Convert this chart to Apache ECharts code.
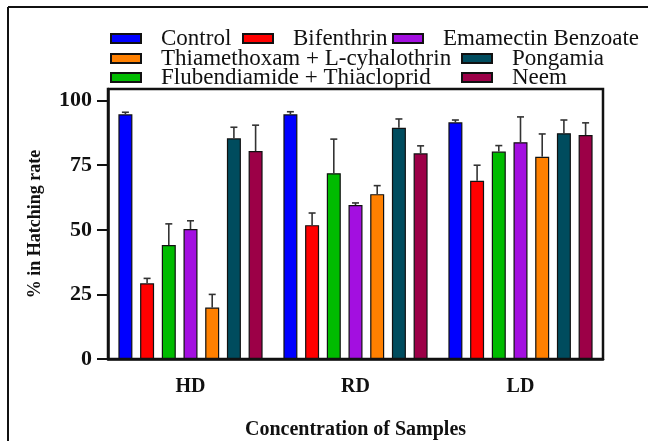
<!DOCTYPE html>
<html>
<head>
<meta charset="utf-8">
<script src="https://cdn.jsdelivr.net/npm/echarts@6/dist/echarts.min.js"></script>
<style>
html,body{margin:0;padding:0;background:#fff;}
#chart{width:648px;height:441px;}
</style>
</head>
<body>
<div id="chart"></div>
<script>
const categories = ['HD', 'RD', 'LD'];
const seriesNames = ['Control', 'Bifenthrin', 'Flubendiamide + Thiacloprid', 'Emamectin Benzoate', 'Thiamethoxam + L-cyhalothrin', 'Pongamia', 'Neem'];
const controlVals = [94.7, 94.7, 91.6];
const controlErr = [0.8, 1.0, 0.9];
const bifenthrinVals = [29.3, 51.8, 69.0];
const bifenthrinErr = [1.9, 4.7, 6.0];
const flubendiamideVals = [44.1, 71.9, 80.3];
const flubendiamideErr = [8.2, 13.2, 2.3];
const emamectinVals = [50.3, 59.6, 83.9];
const emamectinErr = [3.2, 0.8, 9.8];
const thiamethoxamVals = [19.9, 63.8, 78.3];
const thiamethoxamErr = [5.1, 3.3, 8.8];
const pongamiaVals = [85.4, 89.5, 87.4];
const pongamiaErr = [4.3, 3.4, 5.1];
const neemVals = [80.5, 79.6, 86.7];
const neemErr = [10.0, 2.9, 4.7];
const yTicks = [0, 25, 50, 75, 100];

const values = [controlVals, bifenthrinVals, flubendiamideVals, emamectinVals, thiamethoxamVals, pongamiaVals, neemVals];
const errors = [controlErr, bifenthrinErr, flubendiamideErr, emamectinErr, thiamethoxamErr, pongamiaErr, neemErr];
const colors = ['#0000ff', '#ff0000', '#00bb00', '#a30fe0', '#ff8000', '#004c5e', '#9c0047'];

const FONT = 'Liberation Serif';
const CAT_GAP = 0.126;
const BAR_GAP = 0.55;
const N = seriesNames.length;

const series = [];
values.forEach((vals, i) => {
  series.push({
    name: seriesNames[i],
    type: 'bar',
    data: vals,
    barGap: (BAR_GAP * 100) + '%',
    barCategoryGap: (CAT_GAP * 100) + '%',
    itemStyle: { color: colors[i], borderColor: '#111', borderWidth: 1.2 },
    emphasis: { disabled: true },
    z: 2
  });
});
values.forEach((vals, i) => {
  series.push({
    name: seriesNames[i],
    type: 'custom',
    data: vals.map((v, k) => [k, v, errors[i][k]]),
    z: 3,
    silent: true,
    renderItem: function (params, api) {
      const c = api.value(0), v = api.value(1), e = api.value(2);
      const base = api.coord([c, v]);
      const top = api.coord([c, v + e]);
      const band = api.size([1, 0])[0];
      const usable = band * (1 - CAT_GAP);
      const bw = usable / (N + (N - 1) * BAR_GAP);
      const x = base[0] - usable / 2 + i * bw * (1 + BAR_GAP) + bw / 2;
      const cap = 3.5;
      const style = { stroke: '#333', lineWidth: 1.6 };
      return {
        type: 'group',
        children: [
          { type: 'line', shape: { x1: x, y1: base[1], x2: x, y2: top[1] }, style: style },
          { type: 'line', shape: { x1: x - cap, y1: top[1], x2: x + cap, y2: top[1] }, style: style }
        ]
      };
    }
  });
});

const legendPos = [
  [110, 38], [242, 38], [110, 77], [392, 38], [110, 58], [461, 58], [461, 77]
];
const legends = seriesNames.map((n, i) => ({
  data: [n],
  left: legendPos[i][0],
  top: legendPos[i][1] - 11,
  padding: 0,
  itemWidth: 30,
  itemHeight: 9,
  icon: 'rect',
  selectedMode: false,
  textStyle: { fontFamily: FONT, fontSize: 23, color: '#111', lineHeight: 22, padding: [0, 0, 0, 15] }
}));

const chart = echarts.init(document.getElementById('chart'), null, { renderer: 'canvas' });
chart.setOption({
  backgroundColor: '#fff',
  animation: false,
  legend: legends,
  grid: {
    left: 108, right: 45, top: 89, bottom: 82,
    outerBoundsMode: 'none',
    containLabel: false,
    show: true, borderColor: '#111', borderWidth: 2.5, backgroundColor: 'transparent'
  },
  xAxis: {
    type: 'category',
    data: categories,
    axisLine: { lineStyle: { color: '#111', width: 2.5 } },
    axisTick: { alignWithLabel: true, length: 10, lineStyle: { color: '#111', width: 2.5 } },
    axisLabel: { fontFamily: FONT, fontSize: 20, fontWeight: 'bold', color: '#111', margin: 18 },
    name: 'Concentration of Samples',
    nameLocation: 'middle',
    nameGap: 61,
    nameTextStyle: { fontFamily: FONT, fontSize: 20, fontWeight: 'bold', color: '#111' }
  },
  yAxis: {
    type: 'value',
    min: 0, max: 104.5, interval: 25,
    splitLine: { show: false },
    axisLine: { show: true, lineStyle: { color: '#111', width: 2.5 } },
    axisTick: { show: true, length: 11, customValues: yTicks, lineStyle: { color: '#111', width: 2 } },
    axisLabel: { fontFamily: FONT, fontSize: 22, fontWeight: 'bold', color: '#111', margin: 16, customValues: yTicks },
    name: '% in Hatching rate',
    nameLocation: 'middle',
    nameGap: 64,
    nameTextStyle: { fontFamily: FONT, fontSize: 18, fontWeight: 'bold', color: '#111' }
  },
  graphic: [
    { type: 'line', shape: { x1: 8, y1: 7, x2: 648, y2: 7 }, style: { stroke: '#111', lineWidth: 2 }, silent: true },
    { type: 'line', shape: { x1: 8, y1: 7, x2: 8, y2: 441 }, style: { stroke: '#111', lineWidth: 2 }, silent: true }
  ],
  series: series
});
</script>
</body>
</html>
